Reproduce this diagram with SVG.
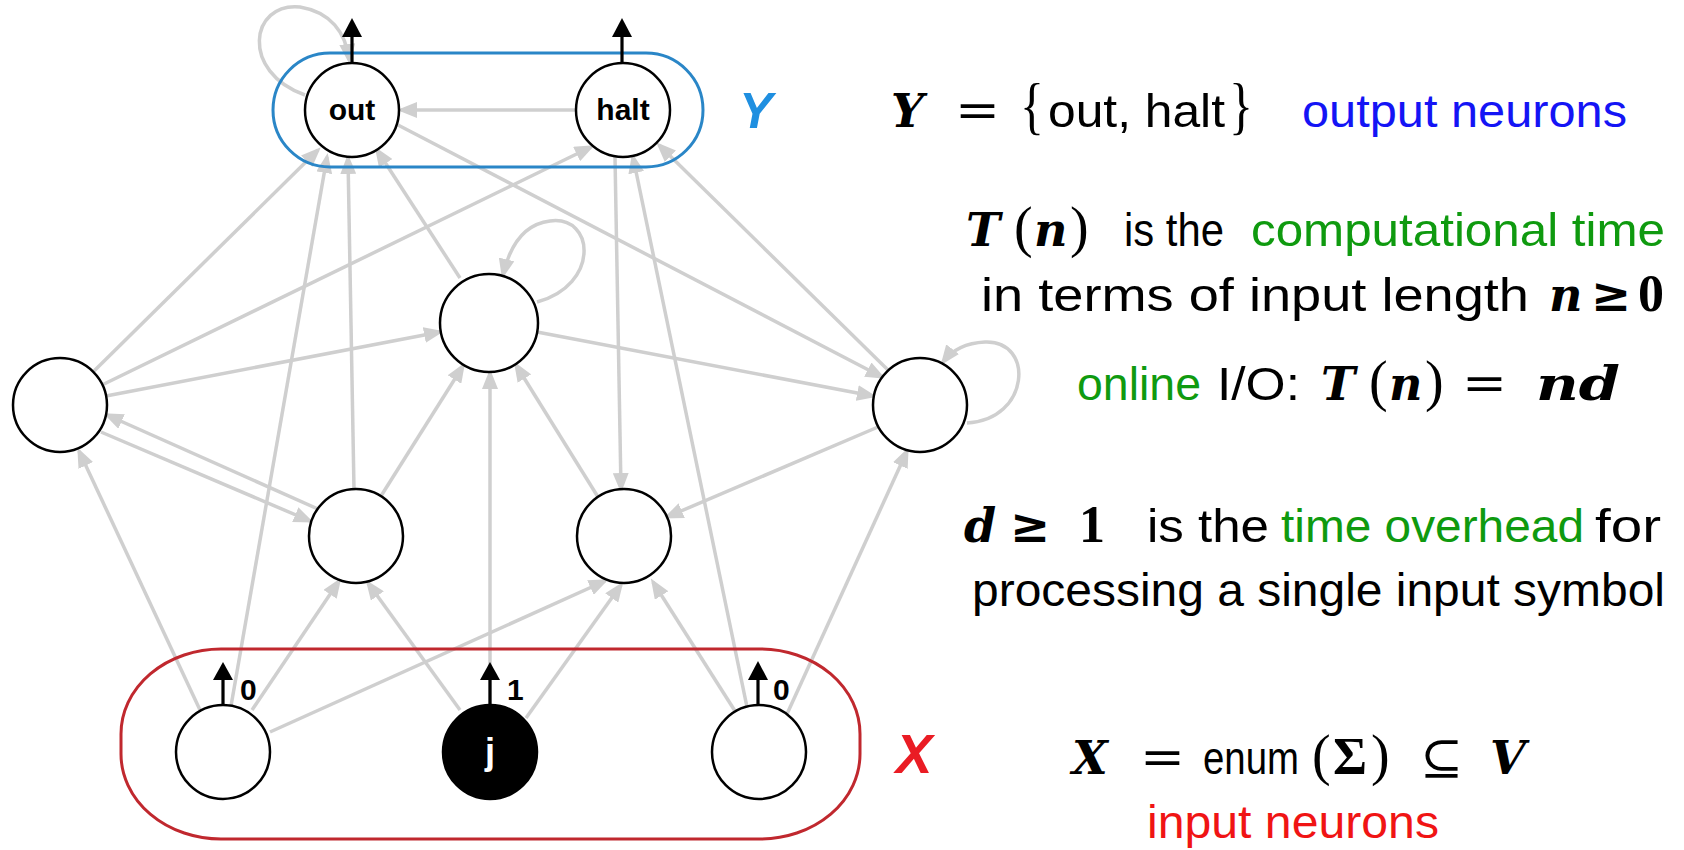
<svg xmlns="http://www.w3.org/2000/svg" width="1684" height="850" viewBox="0 0 1684 850">
<defs>
<style>
.e{fill:none;stroke:#cfcfcf;stroke-width:3.5;marker-end:url(#ah)}
.n{fill:#fff;stroke:#000;stroke-width:2.5}
.nl{font-family:"Liberation Sans",Arial,sans-serif;font-weight:bold;font-size:30px;text-anchor:middle}
.oa{stroke:#000;stroke-width:3.2;fill:none}
.oh{fill:#000}
.bl{font-family:"Liberation Sans",Arial,sans-serif;font-weight:bold;font-size:30px}
.t{font-family:"Liberation Sans",Arial,sans-serif;font-size:47px;fill:#000}
.m{font-family:"DejaVu Serif","Liberation Serif",serif;font-weight:bold;font-style:italic;font-size:46px}
.r{font-family:"Liberation Serif","Times New Roman",serif;font-size:56px}
.br{font-family:"Liberation Serif","Times New Roman",serif;font-size:64px}
.rb{font-family:"Liberation Serif","Times New Roman",serif;font-weight:bold;font-size:52px}
.op{font-family:"DejaVu Serif",serif;font-size:48px}
.g{fill:#0f9a0f}
.bu{fill:#1414f5}
.rd{fill:#f01414}
</style>
<marker id="ah" viewBox="0 0 20 16" refX="16" refY="8" markerWidth="20" markerHeight="16" markerUnits="userSpaceOnUse" orient="auto"><path d="M0,0 L20,8 L0,16 z" fill="#cfcfcf"/></marker>
</defs>
<rect width="1684" height="850" fill="#fff"/>
<g id="connectors">
<path class="e" d="M575,110 L401,110"/>
<path class="e" d="M93,372 L318,150"/>
<path class="e" d="M231,706 L327,157"/>
<path class="e" d="M354,489 L348,158"/>
<path class="e" d="M460,278 L377,150"/>
<path class="e" d="M102,385 L591,147"/>
<path class="e" d="M398,125 L882,377"/>
<path class="e" d="M888,370 L659,145"/>
<path class="e" d="M537,332 L873,396"/>
<path class="e" d="M106,396 L440,332"/>
<path class="e" d="M318,509 L107,415"/>
<path class="e" d="M101,432 L310,521"/>
<path class="e" d="M200,710 L79,451"/>
<path class="e" d="M381,496 L463,366"/>
<path class="e" d="M490,705 L490,373"/>
<path class="e" d="M598,497 L516,365"/>
<path class="e" d="M878,427 L667,517"/>
<path class="e" d="M787,714 L907,451"/>
<path class="e" d="M252,710 L339,581"/>
<path class="e" d="M460,710 L368,583"/>
<path class="e" d="M270,732 L605,581"/>
<path class="e" d="M526,718 L621,585"/>
<path class="e" d="M735,711 L653,582"/>
<path class="e" d="M747,707 L633,157"/>
<path class="e" d="M615,157 L621,489"/>
<path class="e" d="M305,95 C240,72 250,2 300,7 C330,12 346,32 349,60"/>
<path class="e" d="M537,302 C600,285 595,215 550,221 C525,224 510,245 503,275"/>
<path class="e" d="M967,423 C1030,420 1035,340 985,342 C965,343 952,350 943,362"/>
</g>
<g id="group-Y">
<rect x="273" y="53" width="430" height="114" rx="57" ry="57" fill="none" stroke="#2a86c7" stroke-width="3"/>
<text x="756" y="128" font-family="Liberation Sans,Arial,sans-serif" font-weight="bold" font-style="italic" font-size="50" fill="#1f8fe0" text-anchor="middle">Y</text>
</g>
<g id="group-X">
<rect x="121" y="649" width="739" height="190" rx="100" ry="85" fill="none" stroke="#c0282e" stroke-width="3"/>
<text x="914" y="773" font-family="Liberation Sans,Arial,sans-serif" font-weight="bold" font-style="italic" font-size="55" fill="#ea1c24" text-anchor="middle">X</text>
</g>
<g id="node-out">
<circle class="n" cx="352" cy="110" r="47"/>
<text class="nl" x="352" y="120">out</text>
<path class="oa" d="M352,63 V34"/><path class="oh" d="M342,37 L352,18 L362,37 z"/>
</g>
<g id="node-halt">
<circle class="n" cx="623" cy="110" r="47"/>
<text class="nl" x="623" y="120">halt</text>
<path class="oa" d="M622,63 V34"/><path class="oh" d="M612,37 L622,18 L632,37 z"/>
</g>
<g id="node-c"><circle class="n" cx="489" cy="323" r="49"/></g>
<g id="node-l"><circle class="n" cx="60" cy="405" r="47"/></g>
<g id="node-r"><circle class="n" cx="920" cy="405" r="47"/></g>
<g id="node-ml"><circle class="n" cx="356" cy="536" r="47"/></g>
<g id="node-mr"><circle class="n" cx="624" cy="536" r="47"/></g>
<g id="node-x0">
<circle class="n" cx="223" cy="752" r="47"/>
<path class="oa" d="M223,705 V677"/><path class="oh" d="M213,680 L223,662 L233,680 z"/>
<text class="bl" x="240" y="700">0</text>
</g>
<g id="node-j">
<circle cx="490" cy="752" r="47" fill="#000" stroke="#000" stroke-width="2.5"/>
<text x="490" y="764" font-family="Liberation Sans,Arial,sans-serif" font-weight="bold" font-size="36" fill="#fff" text-anchor="middle">j</text>
<path class="oa" d="M490,705 V677"/><path class="oh" d="M480,680 L490,662 L500,680 z"/>
<text class="bl" x="507" y="700">1</text>
</g>
<g id="node-x2">
<circle class="n" cx="759" cy="752" r="47"/>
<path class="oa" d="M758,705 V677"/><path class="oh" d="M748,680 L758,661 L768,680 z"/>
<text class="bl" x="773" y="700">0</text>
</g>
<g id="text-right">
<text y="127"><tspan class="m" x="891">Y</tspan><tspan class="op" x="955" textLength="45" lengthAdjust="spacingAndGlyphs">=</tspan><tspan class="br" x="1020" textLength="24" lengthAdjust="spacingAndGlyphs">{</tspan><tspan class="t" x="1048" textLength="177" lengthAdjust="spacingAndGlyphs">out, halt</tspan><tspan class="br" x="1229" textLength="24" lengthAdjust="spacingAndGlyphs">}</tspan><tspan class="t bu" x="1302" textLength="325" lengthAdjust="spacingAndGlyphs">output neurons</tspan></text>
<text y="246"><tspan class="m" x="966">T</tspan><tspan class="r" x="1014">(</tspan><tspan class="m" x="1034">n</tspan><tspan class="r" x="1070">)</tspan><tspan class="t" x="1124" textLength="100" lengthAdjust="spacingAndGlyphs">is the</tspan><tspan class="t g" x="1251" textLength="414" lengthAdjust="spacingAndGlyphs">computational time</tspan></text>
<text y="311"><tspan class="t" x="981" textLength="548" lengthAdjust="spacingAndGlyphs">in terms of input length</tspan><tspan class="m" x="1549">n</tspan><tspan class="op" font-weight="bold" x="1591">≥</tspan><tspan class="rb" x="1638">0</tspan></text>
<text y="400"><tspan class="t g" x="1077" textLength="124" lengthAdjust="spacingAndGlyphs">online</tspan><tspan class="t" x="1217" textLength="83" lengthAdjust="spacingAndGlyphs">I/O:</tspan><tspan class="m" x="1321">T</tspan><tspan class="r" x="1369">(</tspan><tspan class="m" x="1389">n</tspan><tspan class="r" x="1425">)</tspan><tspan class="op" x="1462" textLength="45" lengthAdjust="spacingAndGlyphs">=</tspan><tspan class="m" x="1536" font-size="50" textLength="84" lengthAdjust="spacingAndGlyphs">nd</tspan></text>
<text y="542"><tspan class="m" x="964">d</tspan><tspan class="op" font-weight="bold" x="1010">≥</tspan><tspan class="rb" x="1079">1</tspan><tspan class="t" x="1147" textLength="122" lengthAdjust="spacingAndGlyphs">is the</tspan><tspan class="t g" x="1281" textLength="303" lengthAdjust="spacingAndGlyphs">time overhead</tspan><tspan class="t" x="1595" textLength="66" lengthAdjust="spacingAndGlyphs">for</tspan></text>
<text y="606"><tspan class="t" x="972" textLength="693" lengthAdjust="spacingAndGlyphs">processing a single input symbol</tspan></text>
<text y="774"><tspan class="m" x="1072" font-size="50">X</tspan><tspan class="op" x="1140" textLength="45" lengthAdjust="spacingAndGlyphs">=</tspan><tspan class="t" x="1203" textLength="96" lengthAdjust="spacingAndGlyphs">enum</tspan><tspan class="r" x="1312" font-size="52">(</tspan><tspan class="rb" x="1333">Σ</tspan><tspan class="r" x="1371" font-size="52">)</tspan><tspan class="op" x="1420" textLength="43" lengthAdjust="spacingAndGlyphs">⊆</tspan><tspan class="m" x="1490" font-size="52">V</tspan></text>
<text y="838"><tspan class="t rd" x="1147" textLength="292" lengthAdjust="spacingAndGlyphs">input neurons</tspan></text>
</g>
</svg>
